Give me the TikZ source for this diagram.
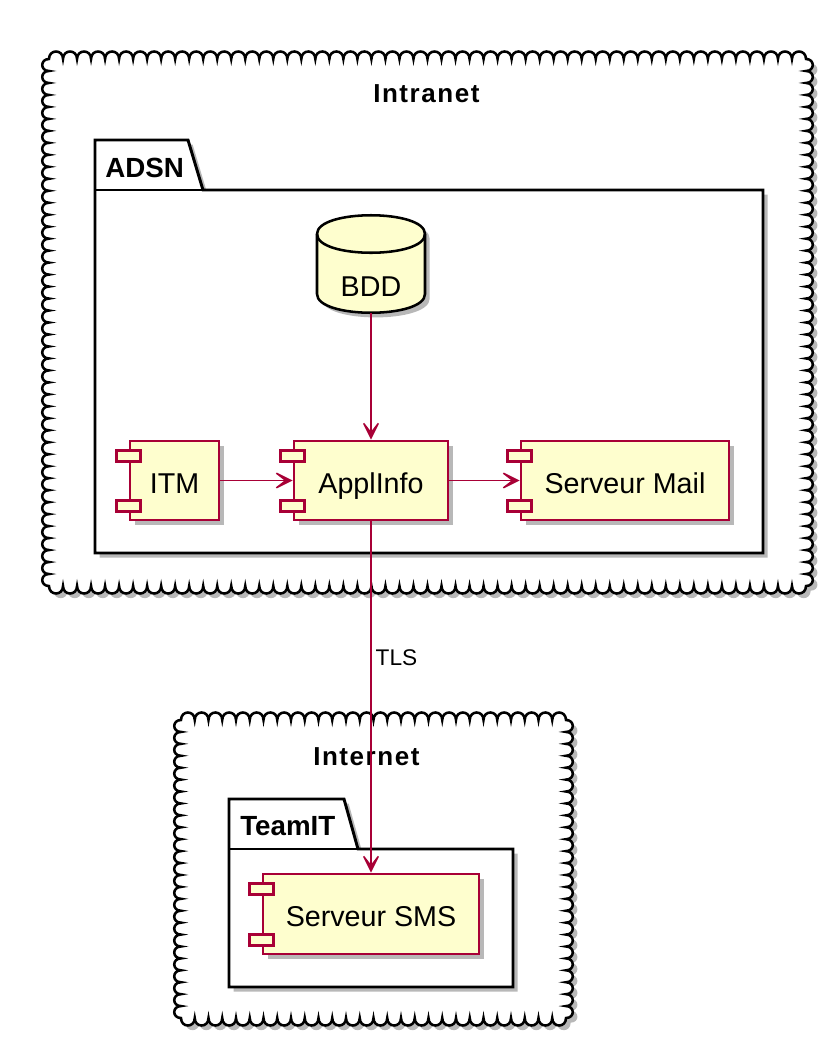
\documentclass[tikz,border=0pt]{standalone}
\usepackage{fontspec}
\setmainfont{Liberation Sans}
\newfontfamily\spacedfont[LetterSpace=6]{Liberation Sans}
\usepackage{tikz}
\usetikzlibrary{arrows.meta,shadows}

\definecolor{umlred}{RGB}{168,0,54}
\definecolor{umlfill}{RGB}{254,254,206}

% scalloped frame: left, top, right, bottom of the bumps
\newcommand{\cloudframe}[4]{%
  \pgfmathsetmacro{\cxa}{#1+6}\pgfmathsetmacro{\cya}{#2+7}%
  \pgfmathsetmacro{\cxb}{#3-6}\pgfmathsetmacro{\cyb}{#4-7}%
  \pgfmathtruncatemacro{\nh}{round((\cxb-\cxa)/14)}%
  \pgfmathtruncatemacro{\nv}{round((\cyb-\cya)/12)}%
  \pgfmathsetmacro{\ph}{(\cxb-\cxa)/\nh}%
  \pgfmathsetmacro{\pv}{(\cyb-\cya)/\nv}%
  \draw[cloudline] (\cxa,\cya)
    \foreach \k in {1,...,\nh}{ .. controls +(0,-10) and +(0,-10) .. ++(\ph,0)}
    \foreach \k in {1,...,\nv}{ .. controls +(9,0) and +(9,0) .. ++(0,\pv)}
    \foreach \k in {1,...,\nh}{ .. controls +(0,10) and +(0,10) .. ++(-\ph,0)}
    \foreach \k in {1,...,\nv}{ .. controls +(-9,0) and +(-9,0) .. ++(0,-\pv)}
    -- cycle;
}

\tikzset{
  shadowed/.style={drop shadow={shadow xshift=3.5pt, shadow yshift=-3.5pt, opacity=0.28, fill=black}},
  comp/.style={draw=umlred, fill=umlfill, line width=2pt, minimum height=59.25pt, inner sep=0pt,
    text height=18.75pt, text depth=0pt, font=\fontsize{21.5pt}{25pt}\selectfont, shadowed},
  portbox/.style={draw=umlred, fill=umlfill, line width=2pt},
  link/.style={draw=umlred, line width=1.1pt, -{Stealth[length=17pt, width=17pt, inset=11pt]}},
  pkg/.style={draw=black, fill=white, line width=2.2pt, shadowed},
  cloudline/.style={draw=black, fill=white, line width=1.9pt, shadowed},
  zonetitle/.style={font=\spacedfont\bfseries\fontsize{19.5pt}{23pt}\selectfont, anchor=base west, inner sep=0pt},
  pkgtitle/.style={font=\bfseries\fontsize{20.8pt}{24pt}\selectfont, anchor=base west, inner sep=0pt},
}

\begin{document}
\begin{tikzpicture}[x=0.75pt,y=0.75pt,yscale=-1,xscale=1]
\useasboundingbox (0,0) rectangle (835,1047);

% Clouds
\cloudframe{43}{52}{812}{593}
\cloudframe{175}{713}{572}{1025}
\node[zonetitle] (intranet) at (373,102) {Intranet};
\node[zonetitle] (internet) at (313,765) {Internet};

% Packages
\draw[pkg] (95,140) -- (188,140) -- (203,190) -- (763,190) -- (763,553) -- (95,553) -- cycle;
\draw[line width=2.2pt] (95,190) -- (203,190);
\node[pkgtitle] (adsn) at (105,177) {ADSN};
\draw[pkg] (229,799) -- (344,799) -- (358,849) -- (513,849) -- (513,987) -- (229,987) -- cycle;
\draw[line width=2.2pt] (229,849) -- (358,849);
\node[pkgtitle] (teamit) at (240,835) {TeamIT};

% Database
\draw[draw=black, fill=umlfill, line width=1.9pt, shadowed] (317,234) -- (317,294) .. controls (317,319) and (425,319) .. (425,294) -- (425,234) .. controls (425,209) and (317,209) .. (317,234) -- cycle;
\draw[line width=1.9pt] (317,234) .. controls (317,259) and (425,259) .. (425,234);
\node[minimum width=81pt, minimum height=39pt, inner sep=0pt, font=\fontsize{21.5pt}{25pt}\selectfont] (bdd) at (371,287) {BDD};

% Components
\node[comp, minimum width=66.75pt] (itm) at (174.5,480.5) {ITM};
\node[comp, minimum width=115.5pt] (appli) at (371,480.5) {ApplInfo};
\node[comp, minimum width=156pt] (mail) at (625,480.5) {Serveur Mail};
\node[comp, minimum width=162pt, minimum height=60pt] (sms) at (371,914) {Serveur SMS};
\foreach \c in {itm,appli,mail,sms}
  \draw[portbox] ([shift={(-12,11)}]\c.north west) rectangle ++(24,11)
                 ([shift={(-12,-21)}]\c.south west) rectangle ++(24,11);

% Links
\draw[link] (bdd) -- (appli);
\draw[link] (itm) -- (appli);
\draw[link] (appli) -- (mail);
\draw[link] (appli) -- node[pos=0.388, anchor=west, inner sep=3pt, font=\fontsize{17pt}{20pt}\selectfont] {TLS} (sms);

\end{tikzpicture}
\end{document}
